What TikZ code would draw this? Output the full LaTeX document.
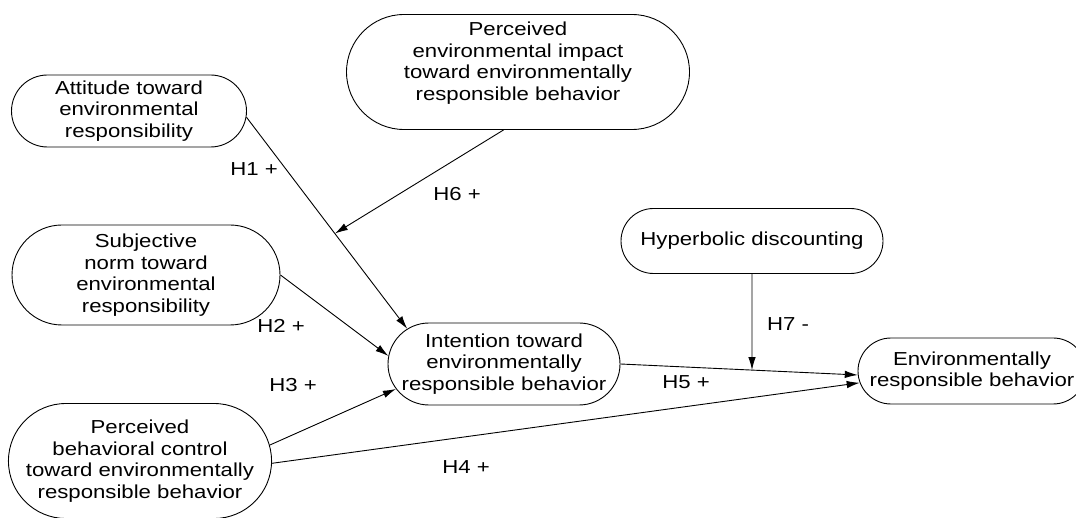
\documentclass[tikz,border=0pt]{standalone}
\usepackage{fontspec}
\setmainfont{Liberation Sans}[FakeStretch=1.18]
\usetikzlibrary{shapes.misc}
\usetikzlibrary{arrows.meta}

\begin{document}
\begin{tikzpicture}[x=1pt,y=-1pt,
 latent/.style={draw,rounded rectangle,align=center,inner sep=0pt,line width=0.9pt,font=\fontsize{18.8}{21.7}\selectfont},
 link/.style={-{Latex[length=13pt,width=7.5pt]},line width=0.9pt},
 hlabel/.style={font=\fontsize{18.8}{21.7}\selectfont}]
 \useasboundingbox (0,0) rectangle (1076,518);
 % constructs
 \node[latent,minimum width=235pt,minimum height=72pt] (att) at (129,111) {Attitude toward\\environmental\\responsibility};
 \node[latent,minimum width=343pt,minimum height=115pt] (imp) at (518,72) {Perceived\\environmental impact\\toward environmentally\\responsible behavior\\\mbox{}};
 \node[latent,minimum width=268pt,minimum height=100pt] (sub) at (146,275) {Subjective\\norm toward\\environmental\\responsibility};
 \node[latent,minimum width=256pt,minimum height=115pt] (pbc) at (140,461) {Perceived\\behavioral control\\toward environmentally\\responsible behavior};
 \node[latent,minimum width=232pt,minimum height=82pt] (int) at (504,364) {Intention toward\\environmentally\\responsible behavior};
 \node[latent,minimum width=262pt,minimum height=65pt] (hyp) at (752,241) {Hyperbolic discounting};
 \node[latent,minimum width=228pt,minimum height=66pt] (erb) at (972,371) {Environmentally\\responsible behavior};
 % paths
 \draw[link] (att.-3) -- coordinate[pos=0.55] (h1mid) (int.160);
 \draw[link] (imp.-104) -- (h1mid);
 \draw[link] (sub.east) -- (int.176);
 \draw[link] (pbc.7) -- (int.193);
 \draw[link] (pbc.-1) -- (erb.186);
 \draw[link] (int.east) -- coordinate[pos=0.55] (h5mid) (erb.182);
 \draw[link] (hyp) -- (hyp |- h5mid);
 % hypotheses
 \node[hlabel] (h1) at (254,169) {H1 +};
 \node[hlabel] (h6) at (457,194) {H6 +};
 \node[hlabel] (h2) at (281,326) {H2 +};
 \node[hlabel] (h3) at (293,385) {H3 +};
 \node[hlabel] (h4) at (466,467) {H4 +};
 \node[hlabel] (h5) at (686,382) {H5 +};
 \node[hlabel] (h7) at (788,324) {H7 -};
\end{tikzpicture}
\end{document}
